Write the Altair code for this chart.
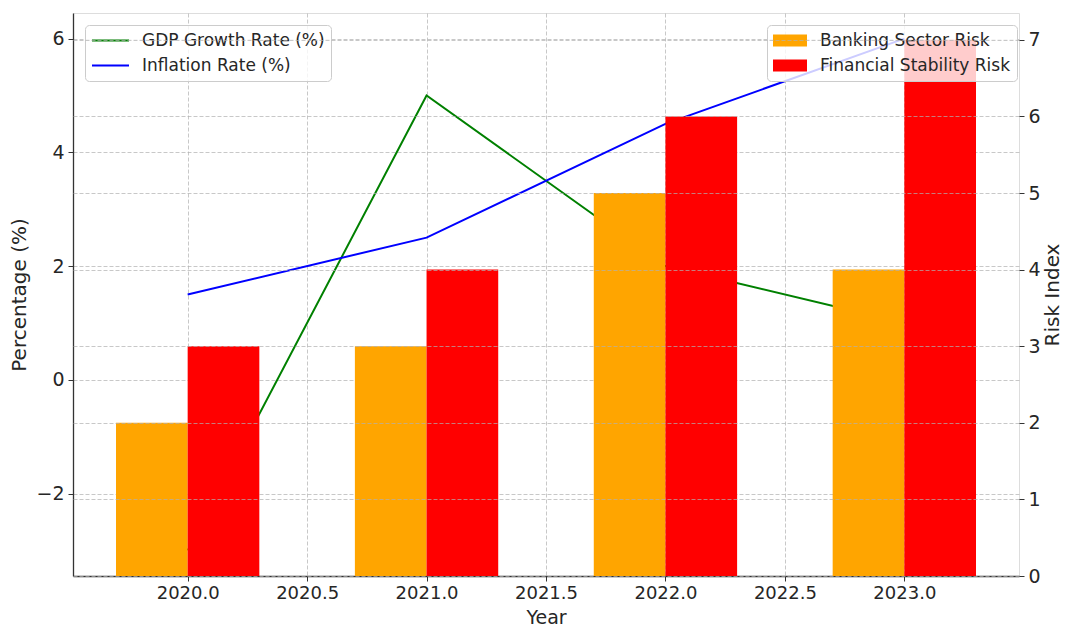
import altair as alt
import pandas as pd

# ---- data ----
years = [2020, 2021, 2022, 2023]
gdp_growth = [-3.0, 5.0, 2.0, 1.0]
inflation = [1.5, 2.5, 4.5, 6.0]
banking_risk = [2, 3, 5, 4]
stability_risk = [3, 4, 6, 7]

line_names = ["GDP Growth Rate (%)", "Inflation Rate (%)"]
line_colors = ["#008000", "#0000ff"]
bar_names = ["Banking Sector Risk", "Financial Stability Risk"]
bar_colors = ["#ffa500", "#ff0000"]

x_ticks = [2020.0, 2020.5, 2021.0, 2021.5, 2022.0, 2022.5, 2023.0]
left_ticks = [-2, 0, 2, 4, 6]
right_ticks = [0, 1, 2, 3, 4, 5, 6, 7]

x_domain = [2019.52, 2023.48]
left_domain = [-3.45, 6.45]
right_domain = [0, 7.35]
BAR_W = 0.3

# ---- tables ----
line_df = pd.DataFrame(
    [{"year": y, "series": line_names[0], "value": v} for y, v in zip(years, gdp_growth)]
    + [{"year": y, "series": line_names[1], "value": v} for y, v in zip(years, inflation)]
)
bar_df = pd.DataFrame(
    [{"year": y, "series": bar_names[0], "slot": 0, "value": v} for y, v in zip(years, banking_risk)]
    + [{"year": y, "series": bar_names[1], "slot": 1, "value": v} for y, v in zip(years, stability_risk)]
)

FONT = "DejaVu Sans"
TXT = "#262626"
GRID = dict(grid=True, gridDash=[4, 2], gridColor="#b0b0b0", gridOpacity=0.7, gridWidth=1)

x_axis = alt.Axis(
    values=x_ticks, format=".1f", title="Year", domainColor="#333333", domainWidth=1.3,
    tickColor="#333333", tickSize=5, labelPadding=3, labelFontSize=18, titleFontSize=19,
    titleY=47, titleBaseline="alphabetic",
    labelColor=TXT, titleColor=TXT, labelFont=FONT, titleFont=FONT,
    titleFontWeight="normal", labelFlush=False, **GRID,
)
x_enc = alt.X("year:Q", scale=alt.Scale(domain=x_domain, nice=False, zero=False), axis=x_axis)

left_axis = alt.Axis(
    orient="left", values=left_ticks, format="d", title="Percentage (%)",
    domainColor="#333333", domainWidth=1.3, tickColor="#333333", tickSize=5, labelPadding=4,
    labelFontSize=19, titleFontSize=20, titlePadding=6, labelColor=TXT, titleColor=TXT,
    labelFont=FONT, titleFont=FONT, titleFontWeight="normal", zindex=0, **GRID,
)
right_axis = alt.Axis(
    orient="right", values=right_ticks, format="d", title="Risk Index", domain=False,
    tickColor="#333333", tickSize=5, labelPadding=4, labelFontSize=19, titleFontSize=20,
    titlePadding=2, titleAngle=270, titleBaseline="top",
    labelColor=TXT, titleColor=TXT, labelFont=FONT, titleFont=FONT,
    titleFontWeight="normal", zindex=1, **GRID,
)

legend_common = dict(
    orient="none", title=None, labelFontSize=17, labelFont=FONT, labelColor=TXT,
    labelLimit=400, fillColor="rgba(255,255,255,0.8)", strokeColor="#cccccc",
    cornerRadius=4, padding=6, rowPadding=6, clipHeight=19,
)

lines = alt.Chart(line_df).mark_line(strokeWidth=2).encode(
    x=x_enc,
    y=alt.Y("value:Q", scale=alt.Scale(domain=left_domain, nice=False, zero=False), axis=left_axis),
    color=alt.Color(
        "series:N",
        scale=alt.Scale(domain=line_names, range=line_colors),
        legend=alt.Legend(legendX=12, legendY=12, symbolType="stroke", symbolSize=1369,
                          symbolStrokeWidth=2, labelOffset=12, **legend_common),
    ),
)

bars = alt.Chart(bar_df).transform_calculate(
    x0=f"datum.year + (datum.slot - 1) * {BAR_W}",
    x1=f"datum.year + datum.slot * {BAR_W}",
    base="0",
).mark_rect(strokeWidth=0).encode(
    x=alt.X("x0:Q", scale=alt.Scale(domain=x_domain, nice=False, zero=False), axis=x_axis),
    x2="x1:Q",
    y=alt.Y("value:Q", scale=alt.Scale(domain=right_domain, nice=False, zero=True), axis=right_axis),
    y2="base:Q",
    fill=alt.Fill(
        "series:N",
        scale=alt.Scale(domain=bar_names, range=bar_colors),
        legend=alt.Legend(legendX=694, legendY=12, symbolType="M-1,-0.36H1V0.36H-1Z",
                          symbolSize=1156, symbolStrokeWidth=0, labelOffset=13, **legend_common),
    ),
)

chart = alt.layer(lines, bars).resolve_scale(y="independent").properties(
    width=946, height=563,
    autosize=alt.AutoSizeParams(type="none"),
    padding={"left": 65, "top": 5, "right": 44, "bottom": 51},
).configure_view(stroke=None).configure(background="white")

chart.save("out.html", embed_options={"renderer": "svg", "actions": False})
